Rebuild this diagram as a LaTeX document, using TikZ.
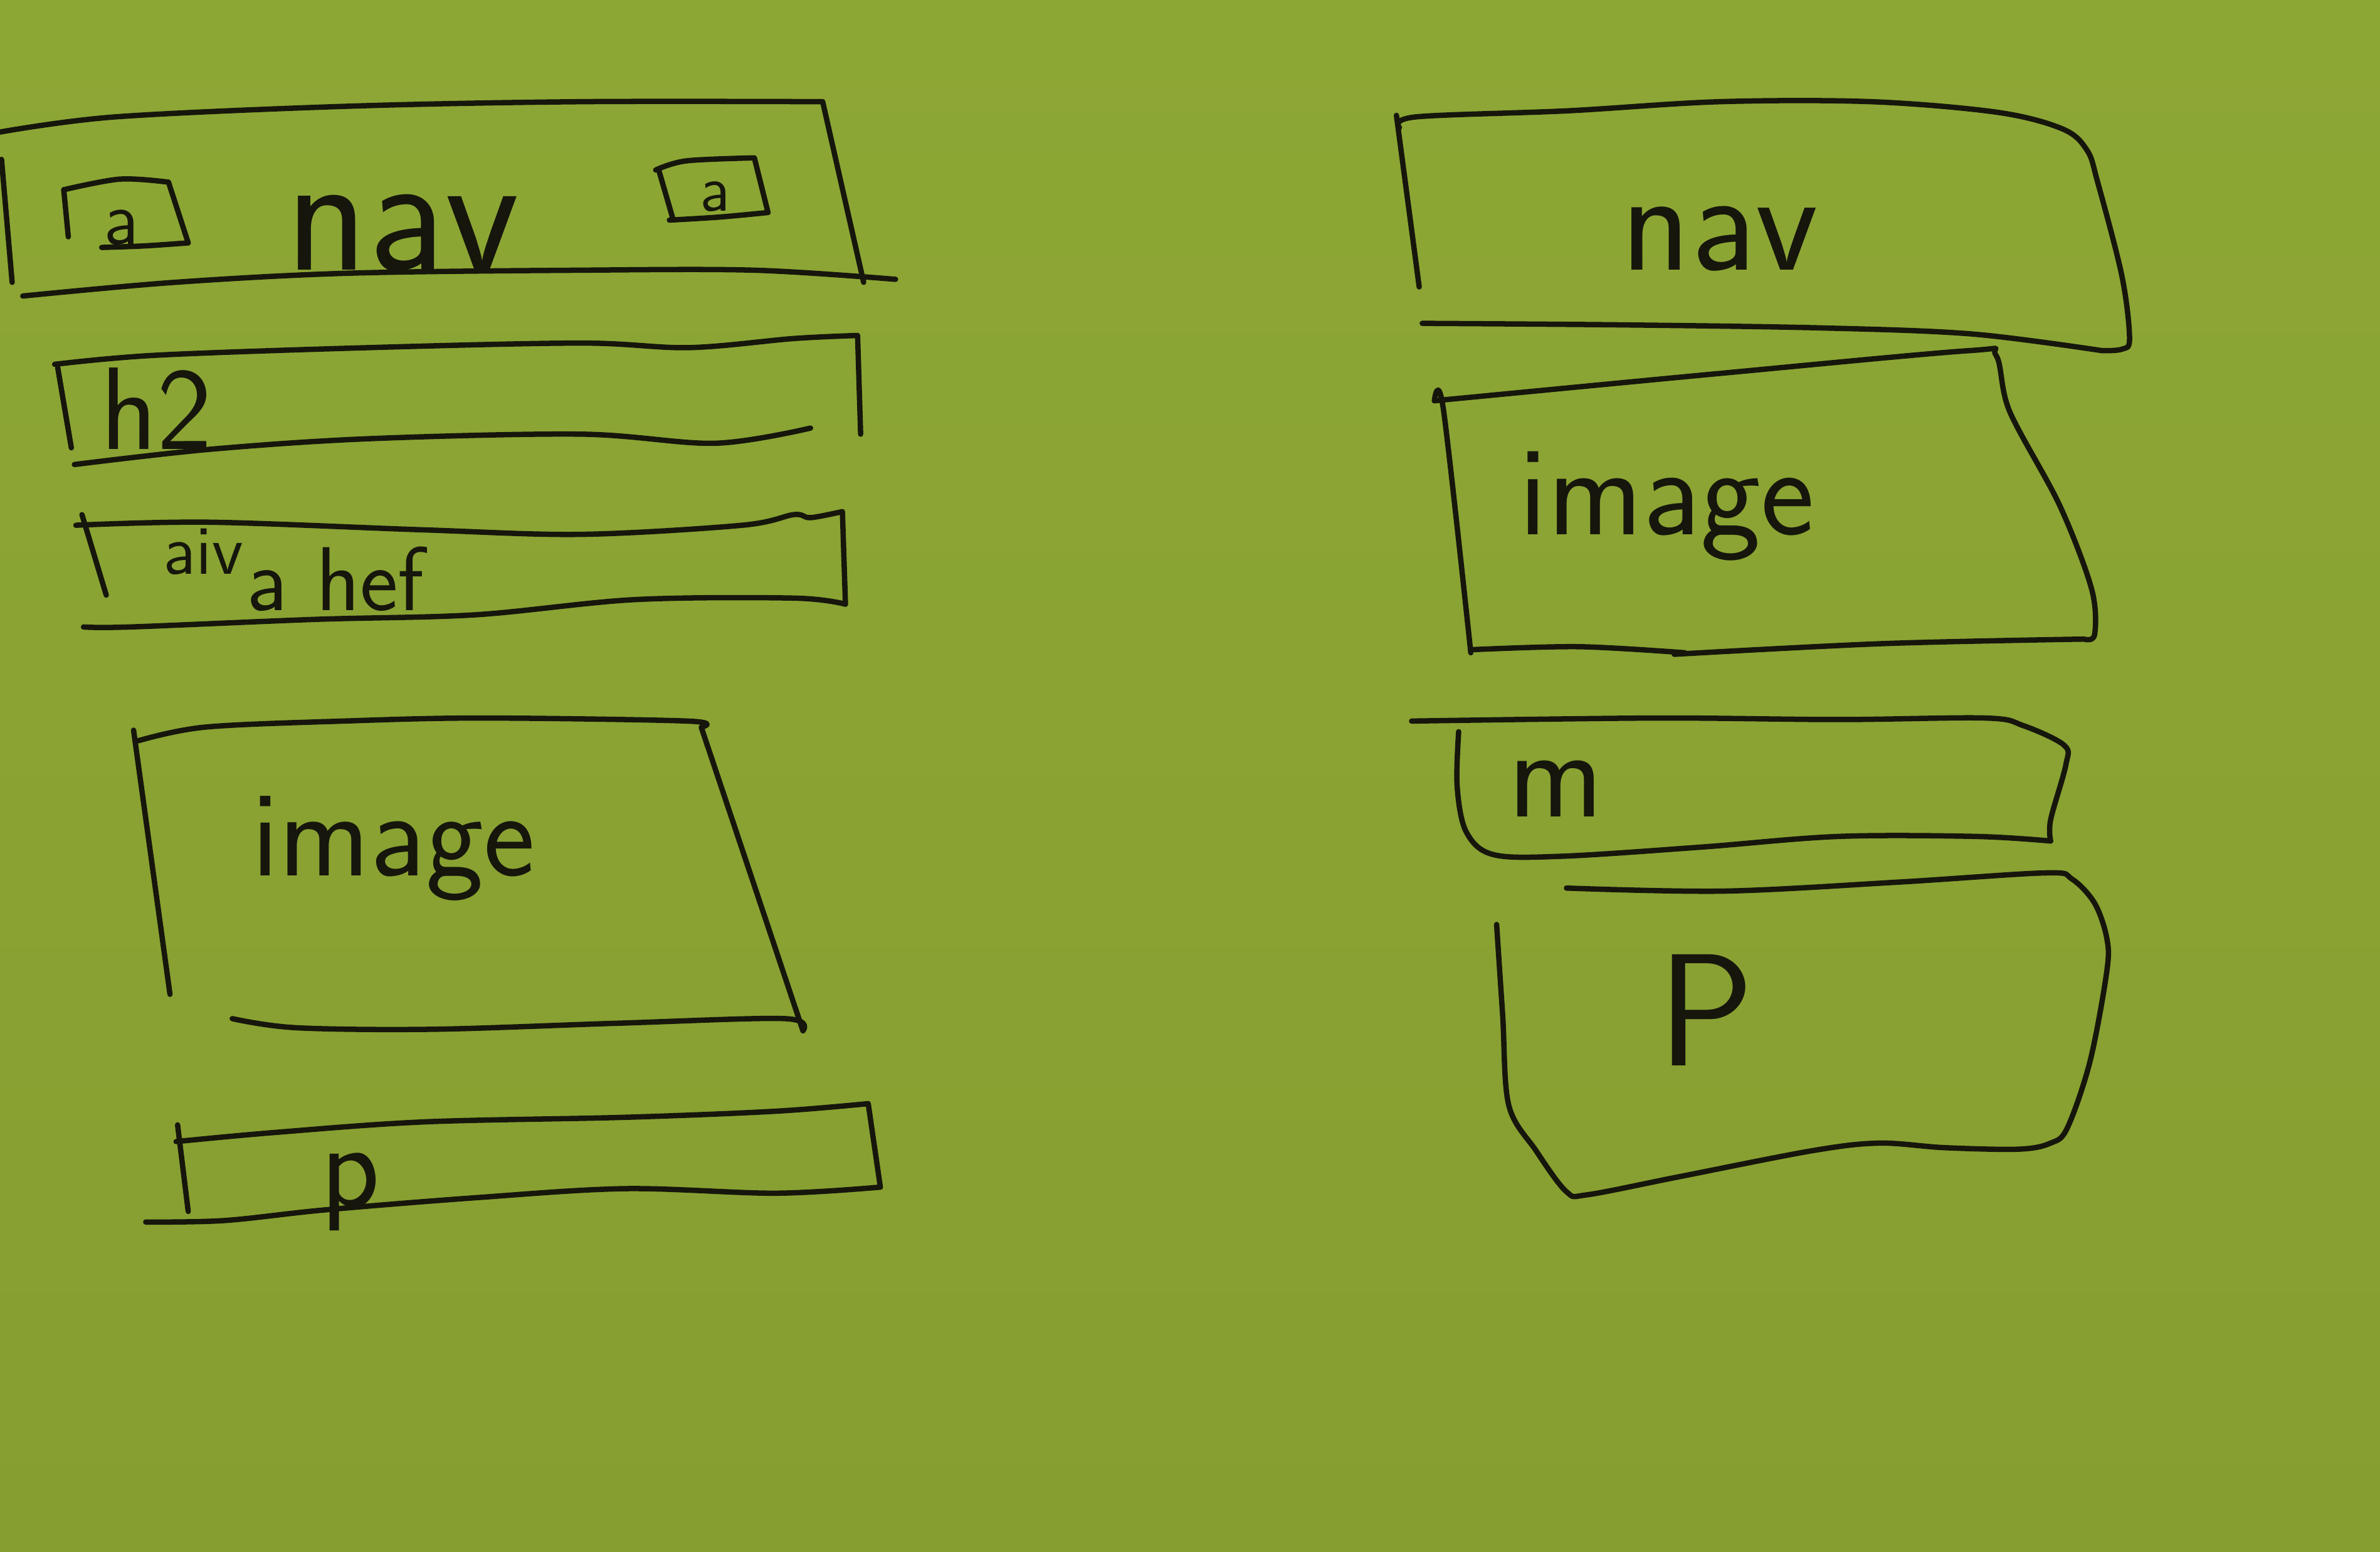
\documentclass[tikz,border=0pt]{standalone}
\begin{document}
\begin{tikzpicture}[x=0.01cm,y=-0.01cm,
  sk/.style={line width=1pt, line cap=round, line join=round, draw={rgb,255:red,22;green,22;blue,12}},
  sm/.style={smooth, tension=0.55},
  hand/.style={inner sep=0pt, anchor=base, text={rgb,255:red,22;green,22;blue,12}, font=\sffamily}]
% background paper
\shade[top color={rgb,255:red,141;green,167;blue,53}, bottom color={rgb,255:red,134;green,158;blue,48}] (0,0) rectangle (1568,1022);
\useasboundingbox (0,0) rectangle (1568,1022);

% ================= LEFT COLUMN =================
% nav bar
\draw[sk] plot[sm] coordinates {(0,87) (76,77) (229,70) (382,67) (542,67)} -- (569,186);
\draw[sk] plot[sm] coordinates {(15,195) (115,186) (229,180) (382,178) (497,178) (590,184)};
\draw[sk] (1,105) -- (8,186);
% small a boxes
\draw[sk] plot[sm] coordinates {(42,125) (79,118) (111,120)} -- (124,160);
\draw[sk] plot[sm] coordinates {(67,163) (95,162) (124,160)};
\draw[sk] (42,125) -- (45,156);
\draw[sk] plot[sm] coordinates {(432,112) (452,106) (497,104)} -- (506,140);
\draw[sk] plot[sm] coordinates {(441,145) (474,143) (506,140)};
\draw[sk] (434,112) -- (443,143);
\node[hand, font=\sffamily\fontsize{14}{14}\selectfont] (la1) at (80,161) {a};
\node[hand, font=\sffamily\fontsize{12}{12}\selectfont] (la2) at (471,139) {a};
\node[hand, font=\sffamily\fontsize{32}{32}\selectfont] (lnav) at (265,178) {nav};

% h2 bar
\draw[sk] plot[sm] coordinates {(36,240) (103,234) (243,229) (383,226) (454,229) (523,223) (565,221)} -- (567,286);
\draw[sk] plot[sm] coordinates {(49,306) (138,296) (243,289) (383,286) (471,292) (534,282)};
\draw[sk] (38,242) -- (47,295);
\node[hand, font=\sffamily\fontsize{22}{22}\selectfont] (lh2) at (103,296) {h2};

% div / a href bar
\draw[sk] plot[sm] coordinates {(50,346) (138,344) (278,349) (383,352) (489,346) (523,339) (534,341) (555,337)} -- (557,398);
\draw[sk] plot[sm] coordinates {(557,398) (523,394) (418,395) (313,405) (208,408) (86,413) (55,413)};
\draw[sk] (54,339) -- (70,392);
\node[hand, font=\sffamily\fontsize{13}{13}\selectfont] (ldiv) at (134,378) {aiv};
\node[hand, font=\sffamily\fontsize{17}{17}\selectfont] (lahref) at (221,402) {a hef};

% image box
\draw[sk] (88,481) -- (112,655);
\draw[sk] plot[sm] coordinates {(91,488) (135,479) (226,475) (317,473) (453,475) (462,479)} -- (529,679);
\draw[sk] plot[sm] coordinates {(529,679) (517,671) (408,674) (286,678) (195,677) (153,671)};
\node[hand, font=\sffamily\fontsize{23}{23}\selectfont] (limg) at (259,577) {image};

% p bar
\draw[sk] plot[sm] coordinates {(116,752) (181,746) (280,739) (412,736) (511,732) (572,727)} -- (580,782);
\draw[sk] plot[sm] coordinates {(580,782) (511,786) (412,783) (313,789) (214,797) (148,804) (96,805)};
\draw[sk] (117,741) -- (124,798);
\node[hand, font=\sffamily\fontsize{23}{23}\selectfont] (lp) at (231,795) {p};

% ================= RIGHT COLUMN =================
% nav
\draw[sk] (920,76) -- (935,189);
\draw[sk] plot[sm] coordinates {(922,84) (933,77) (1033,73) (1133,67) (1233,67) (1316,74) (1359,85) (1375,99) (1382,120) (1398,182) (1403,223) (1398,230) (1385,231)};
\draw[sk] plot[sm] coordinates {(1385,231) (1299,220) (1199,216) (1067,214) (937,213)};
\node[hand, font=\sffamily\fontsize{27}{27}\selectfont] (rnav) at (1133,178) {nav};

% image
\draw[sk] plot[sm] coordinates {(945,264) (1133,246) (1297,231) (1315,234) (1324,271) (1357,333) (1378,388) (1380,418) (1373,421)};
\draw[sk] plot[sm] coordinates {(1373,421) (1240,424) (1103,431)};
\draw[sk] plot[sm] coordinates {(969,428) (1040,426) (1110,430)};
\draw[sk] plot[sm] coordinates {(945,264) (951,270) (969,430)};
\node[hand, font=\sffamily\fontsize{24}{24}\selectfont] (rimg) at (1098,352) {image};

% m
\draw[sk] plot[sm] coordinates {(930,475) (1090,473) (1211,474) (1308,473) (1333,478) (1360,491) (1361,504) (1351,540) (1351,554)};
\draw[sk] plot[sm] coordinates {(1351,554) (1302,551) (1211,551) (1121,558) (1030,564) (984,563) (966,548) (960,518) (961,482)};
\node[hand, font=\sffamily\fontsize{24}{24}\selectfont] (rm) at (1025,538) {m};

% p
\draw[sk] plot[sm] coordinates {(1032,585) (1136,587) (1252,581) (1348,575) (1365,579) (1380,595) (1388,618) (1388,640) (1377,699) (1362,743) (1351,753) (1330,757) (1281,756) (1238,753) (1194,758) (1107,775) (1046,787) (1032,785) (1012,758) (994,728) (990,669) (986,609)};
\node[hand, font=\sffamily\fontsize{30}{30}\selectfont] (rp) at (1124,702) {P};
\end{tikzpicture}
\end{document}
